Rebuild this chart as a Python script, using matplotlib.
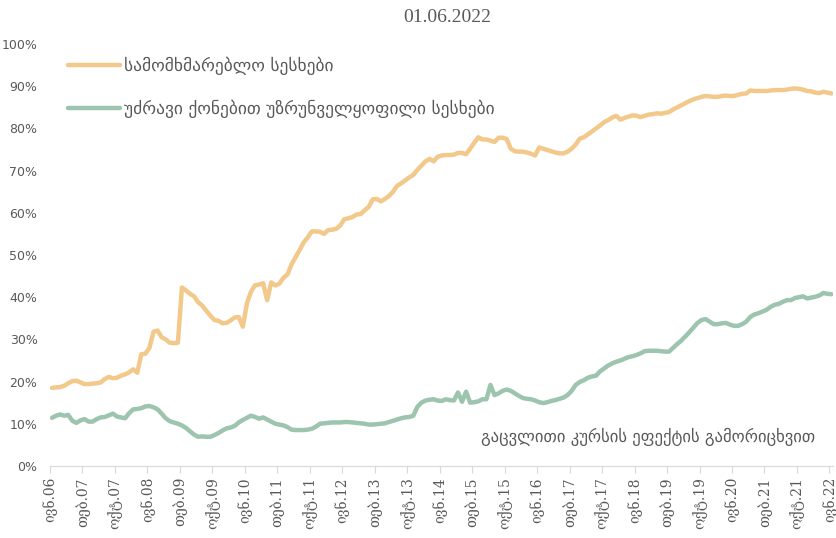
import numpy as np
import matplotlib.pyplot as plt

# monthly shares, Jun 2006 .. Jun 2022 (%)
consumer = [18.5, 18.6, 18.7, 19.0, 19.6, 20.1, 20.2, 19.8, 19.4, 19.4,
            19.5, 19.6, 19.8, 20.6, 21.1, 20.8, 20.9, 21.4, 21.7, 22.2,
            22.9, 22.1, 26.5, 26.6, 28.0, 31.8, 32.1, 30.5, 30.0, 29.2,
            29.1, 29.2, 42.3, 41.6, 40.8, 40.2, 38.8, 38.0, 36.8, 35.6,
            34.6, 34.4, 33.8, 33.9, 34.5, 35.2, 35.3, 33.0, 38.5, 41.3,
            42.8, 43.0, 43.3, 39.3, 43.5, 42.8, 43.2, 44.6, 45.4, 47.8,
            49.5, 51.2, 53.0, 54.2, 55.6, 55.6, 55.5, 55.0, 55.9, 56.0,
            56.2, 57.0, 58.5, 58.7, 59.0, 59.6, 59.7, 60.6, 61.4, 63.2,
            63.3, 62.7, 63.3, 64.0, 65.0, 66.4, 67.0, 67.7, 68.4, 69.0,
            70.2, 71.2, 72.2, 72.8, 72.2, 73.3, 73.6, 73.7, 73.7, 73.8,
            74.2, 74.2, 73.9, 75.2, 76.6, 77.9, 77.4, 77.4, 77.1, 76.8,
            77.8, 77.8, 77.5, 75.2, 74.6, 74.5, 74.5, 74.3, 74.0, 73.6,
            75.5, 75.2, 74.9, 74.6, 74.3, 74.1, 74.1, 74.5, 75.2, 76.2,
            77.6, 77.9, 78.6, 79.3, 80.0, 80.7, 81.5, 82.0, 82.6, 83.0,
            82.1, 82.5, 82.8, 83.1, 83.0, 82.7, 83.0, 83.3, 83.4, 83.6,
            83.5, 83.7, 83.9, 84.5, 85.0, 85.5, 86.0, 86.5, 86.9, 87.2,
            87.5, 87.7, 87.6, 87.5, 87.5, 87.7, 87.8, 87.7, 87.7, 88.0,
            88.2, 88.3, 89.0, 88.9, 88.9, 88.9, 88.9, 89.0, 89.1, 89.1,
            89.1, 89.2, 89.4, 89.5, 89.4, 89.2, 88.9, 88.8, 88.5, 88.4,
            88.7, 88.5, 88.3]

mortgage = [11.4, 11.9, 12.2, 11.9, 12.1, 10.7, 10.2, 10.8, 11.1, 10.5,
            10.5, 11.1, 11.5, 11.6, 12.0, 12.4, 11.7, 11.5, 11.3, 12.5,
            13.4, 13.5, 13.7, 14.1, 14.2, 13.9, 13.4, 12.4, 11.3, 10.6,
            10.3, 10.0, 9.6, 9.0, 8.2, 7.4, 6.9, 7.0, 6.9, 6.9,
            7.3, 7.8, 8.4, 8.9, 9.1, 9.5, 10.3, 10.9, 11.4, 11.9,
            11.6, 11.2, 11.5, 11.0, 10.5, 10.0, 9.8, 9.6, 9.2, 8.6,
            8.5, 8.5, 8.5, 8.6, 8.8, 9.3, 10.0, 10.1, 10.2, 10.3,
            10.3, 10.3, 10.4, 10.4, 10.3, 10.2, 10.1, 10.0, 9.8, 9.8,
            9.9, 10.0, 10.1, 10.4, 10.7, 11.0, 11.3, 11.5, 11.6, 11.9,
            14.0, 15.0, 15.5, 15.7, 15.8, 15.5, 15.4, 15.8, 15.6, 15.5,
            17.4, 15.2, 17.6, 15.0, 15.1, 15.3, 15.8, 15.8, 19.2, 16.8,
            17.2, 17.8, 18.1, 17.8, 17.2, 16.6, 16.1, 15.9, 15.8, 15.5,
            15.1, 14.9, 15.1, 15.4, 15.6, 15.9, 16.2, 16.8, 17.8, 19.2,
            19.9, 20.3, 20.9, 21.2, 21.4, 22.4, 23.1, 23.8, 24.3, 24.7,
            25.0, 25.4, 25.8, 26.0, 26.3, 26.7, 27.2, 27.3, 27.3, 27.3,
            27.2, 27.1, 27.1, 28.0, 28.9, 29.7, 30.7, 31.7, 32.8, 33.9,
            34.6, 34.8, 34.2, 33.6, 33.6, 33.8, 33.9, 33.5, 33.2, 33.2,
            33.6, 34.2, 35.3, 35.9, 36.2, 36.6, 37.0, 37.7, 38.2, 38.4,
            38.9, 39.3, 39.3, 39.8, 40.0, 40.2, 39.7, 39.9, 40.1, 40.4,
            41.0, 40.8, 40.7]

tick_labels = ['ივნ.06', 'თებ.07', 'ოქტ.07', 'ივნ.08', 'თებ.09', 'ოქტ.09',
               'ივნ.10', 'თებ.11', 'ოქტ.11', 'ივნ.12', 'თებ.13', 'ოქტ.13',
               'ივნ.14', 'თებ.15', 'ოქტ.15', 'ივნ.16', 'თებ.17', 'ოქტ.17',
               'ივნ.18', 'თებ.19', 'ოქტ.19', 'ივნ.20', 'თებ.21', 'ოქტ.21',
               'ივნ.22']

name_consumer = 'სამომხმარებლო სესხები'
name_mortgage = 'უძრავი ქონებით უზრუნველყოფილი სესხები'
title = '01.06.2022'
note = 'გაცვლითი კურსის ეფექტის გამორიცხვით'

gray = '#595959'
months = np.arange(len(consumer))

fig = plt.figure(figsize=(8.36, 5.38), dpi=100)
ax = fig.add_axes([0.0598, 0.134, 0.9372, 0.784])

ax.plot(months, consumer, color='#F2C98A', lw=3.2, solid_capstyle='round',
        label=name_consumer)
ax.plot(months, mortgage, color='#9DC4AE', lw=3.2, solid_capstyle='round',
        label=name_mortgage)

ax.set_xlim(-0.5, len(consumer) - 0.5)
ax.set_ylim(0, 100)
ax.set_yticks(np.arange(0, 101, 10))
ax.set_yticklabels([f'{v}%' for v in range(0, 101, 10)])
ax.set_xticks(np.arange(0, len(consumer), 8) - 0.5)
ax.set_xticklabels(tick_labels, rotation=90, family='DejaVu Serif')

for s in ['top', 'right', 'left']:
    ax.spines[s].set_visible(False)
ax.spines['bottom'].set_color('#D9D9D9')
ax.tick_params(axis='y', length=0, labelsize=9, labelcolor=gray, pad=9)
ax.tick_params(axis='x', length=5, color='#D9D9D9', labelsize=10,
               labelcolor=gray, pad=3)

fig.text(0.535, 0.968, title, ha='center', va='center', fontsize=14,
         color=gray, family='Liberation Serif')
ax.text(0.763, 0.068, note, transform=ax.transAxes, ha='center',
        va='center', fontsize=12, color=gray)

ax.legend(loc='upper left', bbox_to_anchor=(0.008, 1.0), frameon=False,
          fontsize=12.5, handlelength=3.0, handletextpad=0.2,
          labelspacing=1.45, labelcolor=gray, borderaxespad=0.3)

plt.savefig('out.png', dpi=100)
